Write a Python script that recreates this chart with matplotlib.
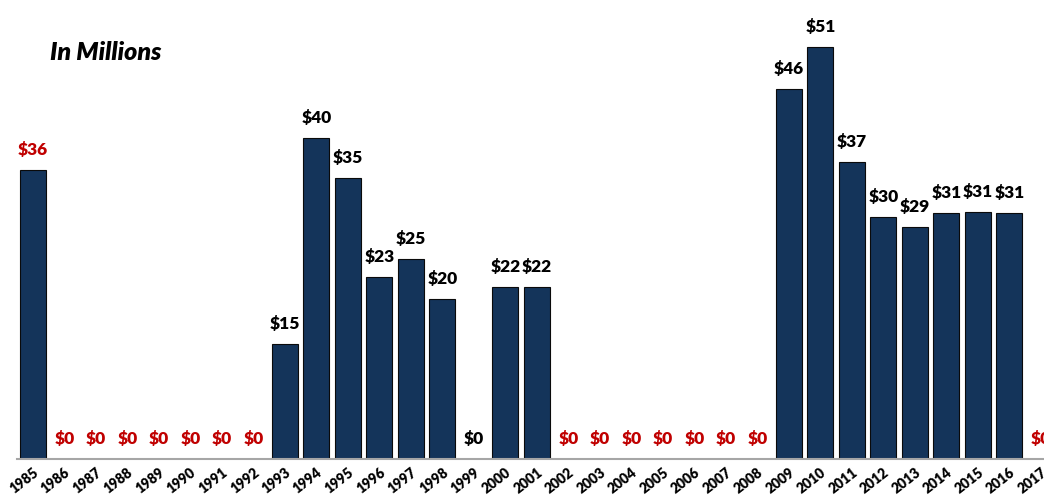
import numpy as np
import matplotlib.pyplot as plt

years = list(range(1985, 2018))
values = [36, 0, 0, 0, 0, 0, 0, 0,
          14.3, 40, 35, 22.7, 24.9, 19.9, 0, 21.4, 21.4,
          0, 0, 0, 0, 0, 0, 0,
          46.1, 51.4, 37, 30.1, 28.9, 30.6, 30.8, 30.6, 0]
labels = ['$36', '$0', '$0', '$0', '$0', '$0', '$0', '$0',
          '$15', '$40', '$35', '$23', '$25', '$20', '$0', '$22', '$22',
          '$0', '$0', '$0', '$0', '$0', '$0', '$0',
          '$46', '$51', '$37', '$30', '$29', '$31', '$31', '$31', '$0']
# red labels: years with no bar drawn plus 1985
red_years = [1985] + list(range(1986, 1993)) + list(range(2002, 2009)) + [2017]

navy = '#14345a'
red = '#c00000'
font = ['Lato', 'DejaVu Sans']

fig = plt.figure(figsize=(10.44, 4.97), dpi=100)
ax = fig.add_axes([17 / 1044, 38 / 497, 1 - 17 / 1044, 1 - 38 / 497])

x = np.arange(len(years))
ax.bar(x, values, width=0.82, color=navy, edgecolor='#0a0a0a', linewidth=0.8)

for xi, v, lab, yr in zip(x, values, labels, years):
    c = red if yr in red_years else 'black'
    ax.text(xi, v + 1.5, lab, ha='center', va='bottom', color=c,
            fontsize=12.5, fontweight='heavy', family=font)

ax.set_xlim(-0.5, 32.1)
ax.set_ylim(0, 57.2)
ax.set_xticks(x)
ax.set_xticklabels([str(y) for y in years], rotation=38, ha='right',
                   rotation_mode='anchor', fontsize=10, fontweight='heavy',
                   family=font)
ax.tick_params(axis='x', length=0, pad=5)
ax.set_yticks([])
for s in ['top', 'right', 'left']:
    ax.spines[s].set_visible(False)
ax.spines['bottom'].set_color('#a6a6a6')
ax.spines['bottom'].set_linewidth(1.5)

fig.text(50 / 1044, 1 - 53 / 497, 'In Millions', fontsize=18, fontweight='heavy',
         fontstyle='italic', va='center', ha='left', family=font)

fig.savefig('out.png', dpi=100)
